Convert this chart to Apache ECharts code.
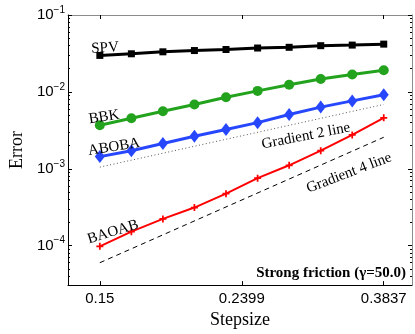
<!DOCTYPE html>
<html>
<head>
<meta charset="utf-8">
<script src="https://cdn.jsdelivr.net/npm/echarts@6.0.0/dist/echarts.min.js"></script>
<style>
html, body { margin: 0; padding: 0; background: #fff; }
#chart { width: 415px; height: 334px; }
</style>
</head>
<body>
<div id="chart"></div>
<script>
// values (log-log plot)
const stepsizes = [0.15, 0.1665, 0.1848, 0.2051, 0.2277, 0.2528, 0.2806, 0.3115, 0.3457, 0.3837];
const spv   = [0.0298, 0.0313, 0.0332, 0.0345, 0.0356, 0.0372, 0.0380, 0.0399, 0.0406, 0.0418];
const bbk   = [0.00369, 0.00453, 0.0056, 0.00686, 0.00853, 0.0103, 0.01236, 0.01472, 0.01687, 0.0191];
const aboba = [0.00144, 0.00172, 0.00213, 0.00265, 0.00324, 0.00398, 0.00508, 0.00634, 0.00764, 0.00917];
const baoab = [0.000098, 0.000152, 0.000223, 0.000313, 0.000474, 0.000755, 0.00111, 0.00172, 0.00276, 0.0046];
// reference slopes
const gradX = [0.15, 0.3837];
const grad2 = [0.00105, 0.00687];
const grad4 = [0.000060, 0.00257];
// axes
const xLimits = [0.135, 0.4213];
const xTicks = [0.15, 0.2399, 0.3837];
const xTickLabels = ['0.15', '0.2399', '0.3837'];
const yLimits = [3.07e-5, 0.1];
const yTickExp = [-4, -3, -2, -1];

const lg = Math.log10;
const pts = (xs, ys) => xs.map((x, i) => [lg(x), lg(ys[i])]);

// minor log ticks (2..9 x 10^n)
const yMinor = [];
for (let d = -5; d <= -2; d++) {
    for (let k = 2; k <= 9; k++) {
        const v = lg(k * Math.pow(10, d));
        if (v >= lg(yLimits[0]) && v <= yTickExp[yTickExp.length - 1]) yMinor.push(v);
    }
}
const xMin = lg(xLimits[0]), xMax = lg(xLimits[1]);
const yMin = lg(yLimits[0]), yMax = yTickExp[yTickExp.length - 1];
const xTickPos = xTicks.map(lg);

const serif = 'Liberation Serif';
const sans = 'Liberation Sans';
const plusPath = 'path://M-1,-4H1V-1H4V1H1V4H-1V1H-4V-1H-1Z';

const chart = echarts.init(document.getElementById('chart'));

const yAxisBase = (pos, line, ticks, len) => ({
    type: 'value', min: yMin, max: yMax, position: pos,
    splitLine: { show: false },
    axisLine: { show: !!line, lineStyle: { color: line || '#000', width: 1 } },
    axisTick: { show: true, inside: true, length: len, customValues: ticks, lineStyle: { color: '#000' } },
    axisLabel: { show: false }
});

chart.setOption({
    animation: false,
    backgroundColor: '#fff',
    grid: { left: 58, right: 3, top: 15, bottom: 40 },
    xAxis: [
        {
            type: 'value', min: xMin, max: xMax, position: 'bottom',
            name: 'Stepsize', nameLocation: 'middle', nameGap: 16,
            nameTextStyle: { fontFamily: serif, fontSize: 18, color: '#000' },
            splitLine: { show: false },
            axisLine: { lineStyle: { color: '#000', width: 1 } },
            axisTick: { inside: true, length: 4, customValues: xTickPos, lineStyle: { color: '#000' } },
            axisLabel: {
                customValues: xTickPos, margin: 6,
                fontFamily: sans, fontSize: 15, color: '#000',
                formatter: (v) => {
                    let best = 0;
                    xTickPos.forEach((p, i) => { if (Math.abs(p - v) < Math.abs(xTickPos[best] - v)) best = i; });
                    return xTickLabels[best];
                }
            }
        },
        {
            type: 'value', min: xMin, max: xMax, position: 'top',
            splitLine: { show: false },
            axisLine: { lineStyle: { color: '#8c8c8c', width: 1 } },
            axisTick: { inside: true, length: 4, customValues: xTickPos, lineStyle: { color: '#000' } },
            axisLabel: { show: false }
        }
    ],
    yAxis: [
        Object.assign(yAxisBase('left', '#000', yTickExp, 4), {
            name: 'Error', nameLocation: 'middle', nameGap: 34,
            nameTextStyle: { fontFamily: serif, fontSize: 18, color: '#000' },
            axisLabel: {
                show: true, customValues: yTickExp, margin: 3,
                formatter: (v) => '{b|10}{s|\u2212' + Math.round(-v) + '}',
                rich: {
                    b: { fontFamily: sans, fontSize: 15, color: '#000' },
                    s: { fontFamily: sans, fontSize: 10, color: '#000', padding: [0, 0, 10, 0] }
                }
            }
        }),
        yAxisBase('left', null, yMinor, 2),
        yAxisBase('right', '#8c8c8c', yTickExp, 4),
        yAxisBase('right', null, yMinor, 2)
    ],
    series: [
        {
            name: 'Gradient 2 line', type: 'line', data: pts(gradX, grad2), symbol: 'none',
            lineStyle: { color: '#555', width: 1, type: [1, 2.5] }
        },
        {
            name: 'Gradient 4 line', type: 'line', data: pts(gradX, grad4), symbol: 'none',
            lineStyle: { color: '#000', width: 1, type: [5, 4] }
        },
        {
            name: 'SPV', type: 'line', data: pts(stepsizes, spv),
            symbol: 'rect', symbolSize: 7,
            itemStyle: { color: '#000' }, lineStyle: { color: '#000', width: 3 }
        },
        {
            name: 'BBK', type: 'line', data: pts(stepsizes, bbk),
            symbol: 'circle', symbolSize: 10,
            itemStyle: { color: '#23a31d' }, lineStyle: { color: '#23a31d', width: 3 }
        },
        {
            name: 'ABOBA', type: 'line', data: pts(stepsizes, aboba),
            symbol: 'diamond', symbolSize: [10, 13],
            itemStyle: { color: '#2747ff' }, lineStyle: { color: '#2747ff', width: 3 }
        },
        {
            name: 'BAOAB', type: 'line', data: pts(stepsizes, baoab),
            symbol: plusPath, symbolSize: 7,
            itemStyle: { color: '#ff0000' }, lineStyle: { color: '#ff0000', width: 2 }
        }
    ],
    graphic: [
        ['SPV', 105, 48, 3],
        ['BBK', 104, 117, 9],
        ['ABOBA', 114, 147, 9],
        ['BAOAB', 113, 232, 17],
        ['Gradient 2 line', 306, 136, 11],
        ['Gradient 4 line', 349, 173, 21]
    ].map(([t, x, y, r]) => ({
        type: 'text', x: x, y: y, rotation: r * Math.PI / 180, z: 100,
        style: { text: t, font: '15px "Liberation Serif"', fill: '#000', textAlign: 'center', textVerticalAlign: 'middle' }
    })).concat([{
        type: 'text', x: 406, y: 273, z: 100,
        style: { text: 'Strong friction (\u03b3=50.0)', font: 'bold 15px "Liberation Serif"', fill: '#000', textAlign: 'right', textVerticalAlign: 'middle' }
    }])
});
</script>
</body>
</html>
